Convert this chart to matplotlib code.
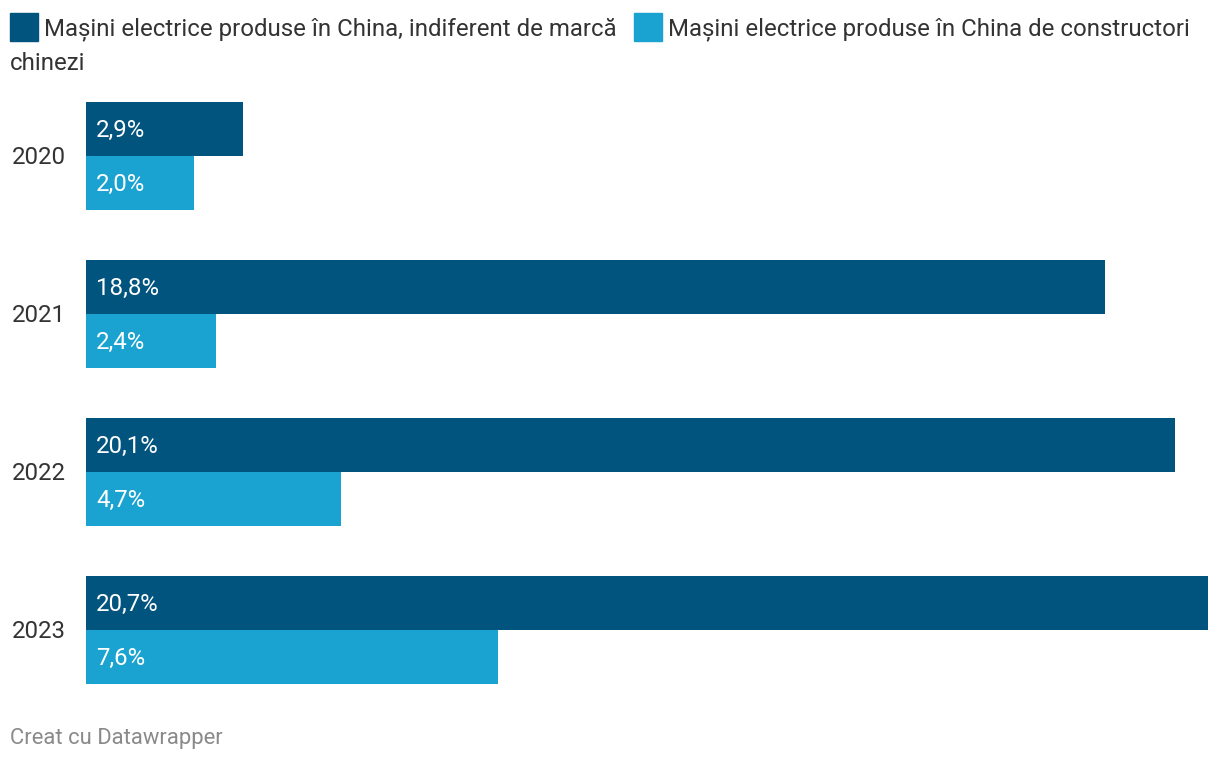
import matplotlib.pyplot as plt
import matplotlib.transforms as mtransforms
from matplotlib.patches import Rectangle

plt.rcParams['font.family'] = ['Roboto', 'DejaVu Sans']

years = ['2020', '2021', '2022', '2023']
all_brands = [2.9, 18.8, 20.1, 20.7]
chinese_brands = [2.0, 2.4, 4.7, 7.6]
labels_all = ['2,9%', '18,8%', '20,1%', '20,7%']
labels_cn = ['2,0%', '2,4%', '4,7%', '7,6%']
legend_all = 'Mașini electrice produse în China, indiferent de marcă'
legend_cn = 'Mașini electrice produse în China de constructori'
legend_cn_wrap = 'chinezi'

dark = '#00547e'
light = '#1aa3d0'
text_col = '#333333'

W, H = 1220, 762
fig = plt.figure(figsize=(W / 100, H / 100), dpi=100)

# axes spans exactly the bar area (px 86..1208 wide, 102..684 tall)
ax = fig.add_axes([86 / W, (H - 684) / H, 1122 / W, 582 / H])
h = 54 / 158
pos = list(range(len(years)))
ax.barh([p - h / 2 for p in pos], all_brands, height=h, color=dark)
ax.barh([p + h / 2 for p in pos], chinese_brands, height=h, color=light)
ax.set_xlim(0, 20.7)
ax.set_ylim(3 + h, -h)
ax.axis('off')

fs = 17.3
# nudge labels up a touch to sit like the original
xoff = mtransforms.offset_copy(ax.transData, fig=fig, x=10, y=1.5, units='dots')
for p, a, c in zip(pos, labels_all, labels_cn):
    ax.text(0, p - h / 2, a, transform=xoff, color='white', fontsize=fs,
            va='center_baseline', ha='left')
    ax.text(0, p + h / 2, c, transform=xoff, color='white', fontsize=fs,
            va='center_baseline', ha='left')

blend = mtransforms.blended_transform_factory(fig.transFigure, ax.transData)
blend = mtransforms.offset_copy(blend, fig=fig, x=0, y=1, units='dots')
for p, y in zip(pos, years):
    ax.text(12 / W, p, y, transform=blend, color=text_col, fontsize=fs,
            va='center_baseline', ha='left')

# legend drawn by hand
def fx(x):
    return x / W

def fy(y):
    return 1 - y / H

fig.patches.append(Rectangle((fx(10), fy(41)), 28 / W, 28 / H, color=dark,
                             transform=fig.transFigure, figure=fig))
fig.patches.append(Rectangle((fx(634), fy(41)), 28 / W, 28 / H, color=light,
                             transform=fig.transFigure, figure=fig))
fig.text(fx(44), fy(35), legend_all, fontsize=fs, color=text_col, va='baseline')
fig.text(fx(668), fy(35), legend_cn, fontsize=fs, color=text_col, va='baseline')
fig.text(fx(10), fy(70), legend_cn_wrap, fontsize=fs, color=text_col, va='baseline')

fig.text(fx(10), fy(744), 'Creat cu Datawrapper', fontsize=15.8, color='#8a8a8a',
         va='baseline')

fig.savefig('out.png', dpi=100, facecolor='white')
